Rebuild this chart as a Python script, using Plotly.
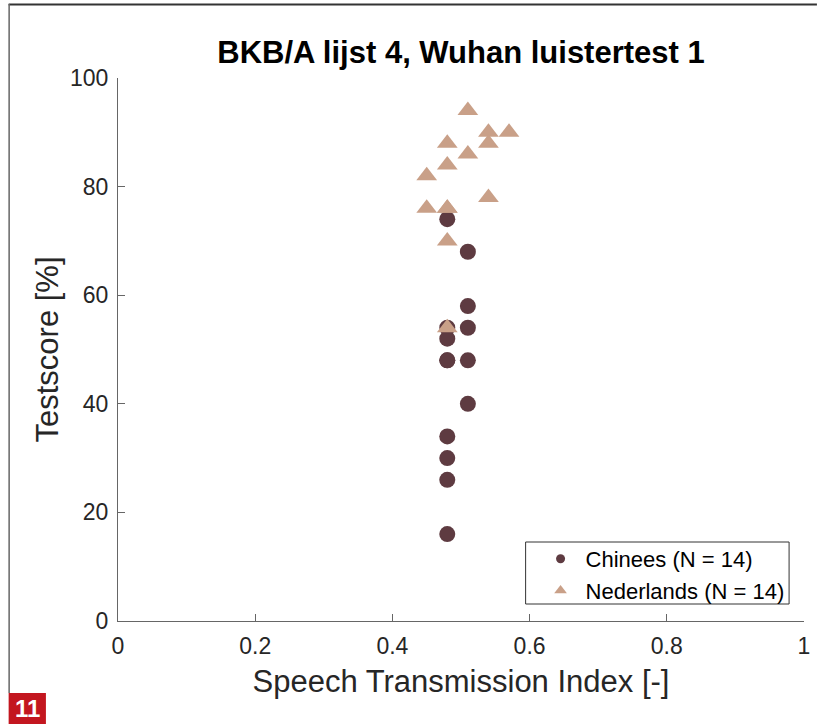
import plotly.graph_objects as go

# ---- data ----
chinees_sti = [0.48, 0.48, 0.48, 0.48, 0.48, 0.48, 0.48, 0.48, 0.48,
               0.51, 0.51, 0.51, 0.51, 0.51]
chinees_score = [74, 54, 52, 48, 48, 34, 30, 26, 16,
                 68, 58, 54, 48, 40]

nederlands_sti = [0.51, 0.54, 0.57, 0.54, 0.48, 0.51, 0.48, 0.45, 0.54,
                  0.45, 0.48, 0.48, 0.48, 0.48]
nederlands_score = [94, 90, 90, 88, 88, 86, 84, 82, 78,
                    76, 76, 76, 70, 54]

x_ticks = [0, 0.2, 0.4, 0.6, 0.8, 1]
x_ticklabels = ["0", "0.2", "0.4", "0.6", "0.8", "1"]
y_ticks = [0, 20, 40, 60, 80, 100]
y_ticklabels = ["0", "20", "40", "60", "80", "100"]

label_chinees = "Chinees (N = 14)"
label_nederlands = "Nederlands (N = 14)"
title_text = "BKB/A lijst 4, Wuhan luistertest 1"
xlabel = "Speech Transmission Index [-]"
ylabel = "Testscore [%]"
badge = "11"

c_chin = "#5e3b41"
c_ned = "#c9a088"
FONT = "Liberation Sans, Arial, sans-serif"

fig = go.Figure()
fig.add_trace(go.Scatter(x=chinees_sti, y=chinees_score, mode="markers",
                         marker=dict(symbol="circle", size=16, color=c_chin),
                         showlegend=False, name=label_chinees))
fig.add_trace(go.Scatter(x=nederlands_sti, y=nederlands_score, mode="markers",
                         marker=dict(symbol="triangle-up", size=18, color=c_ned),
                         showlegend=False, name=label_nederlands))
# legend entries (smaller symbols, as in the reference legend)
fig.add_trace(go.Scatter(x=[None], y=[None], mode="markers",
                         marker=dict(symbol="circle", size=9, color=c_chin),
                         name=label_chinees))
fig.add_trace(go.Scatter(x=[None], y=[None], mode="markers",
                         marker=dict(symbol="triangle-up", size=11, color=c_ned),
                         name=label_nederlands))

L, R, T, B = 118, 14, 78, 103
W, H = 822, 724
pw, ph = W - L - R, H - T - B

def px(xp):
    return (xp - L) / pw

def py(yp):
    return (H - B - yp) / ph

axis_common = dict(showgrid=False, zeroline=False, showline=True,
                   linecolor="#666666", linewidth=1, ticks="inside",
                   ticklen=7, tickcolor="#666666", tickwidth=1,
                   tickfont=dict(family=FONT, size=23, color="#262626"),
                   mirror=False)

fig.update_layout(
    width=W, height=H,
    margin=dict(l=L, r=R, t=T, b=B),
    paper_bgcolor="white", plot_bgcolor="white",
    font=dict(family=FONT, color="#262626"),
    title=dict(text="<b>" + title_text + "</b>", x=0.5, xref="paper",
               y=1 - 52 / H, yanchor="middle",
               font=dict(family=FONT, size=31, color="#000000")),
    xaxis=dict(range=[0, 1], tickvals=x_ticks, ticktext=x_ticklabels,
               ticklabelstandoff=4,
               title=dict(text=xlabel, font=dict(family=FONT, size=31, color="#262626"),
                          standoff=12),
               **axis_common),
    yaxis=dict(range=[0, 100], tickvals=y_ticks, ticktext=y_ticklabels,
               ticklabelstandoff=4,
               title=dict(text=ylabel, font=dict(family=FONT, size=31, color="#262626"),
                          standoff=2),
               **axis_common),
    legend=dict(x=px(538), y=py(538), xanchor="left", yanchor="top",
                bgcolor="rgba(0,0,0,0)", borderwidth=0,
                font=dict(family=FONT, size=22, color="#000000"),
                itemwidth=40, tracegroupgap=0),
    shapes=[
        # legend frame
        dict(type="rect", xref="paper", yref="paper", layer="above",
             x0=px(528), x1=px(793), y0=py(604), y1=py(542),
             fillcolor="white", line=dict(color="#333333", width=1)),
        # page border lines
        dict(type="line", xref="paper", yref="paper",
             x0=px(8), x1=px(821), y0=py(4.5), y1=py(4.5),
             line=dict(color="#333333", width=2)),
        dict(type="line", xref="paper", yref="paper",
             x0=px(8.5), x1=px(8.5), y0=py(4), y1=py(693),
             line=dict(color="#666666", width=1.5)),
        dict(type="rect", xref="paper", yref="paper",
             x0=px(8), x1=px(45.5), y0=py(693), y1=py(724),
             fillcolor="#c3161f", line=dict(width=0)),
    ],
    annotations=[
        dict(text="<b>" + badge + "</b>", xref="paper", yref="paper",
             x=px(27), y=py(708.5), xanchor="center", yanchor="middle",
             showarrow=False, font=dict(family=FONT, size=24, color="white")),
    ],
)

fig.write_html("out.html", config={"responsive": False})
